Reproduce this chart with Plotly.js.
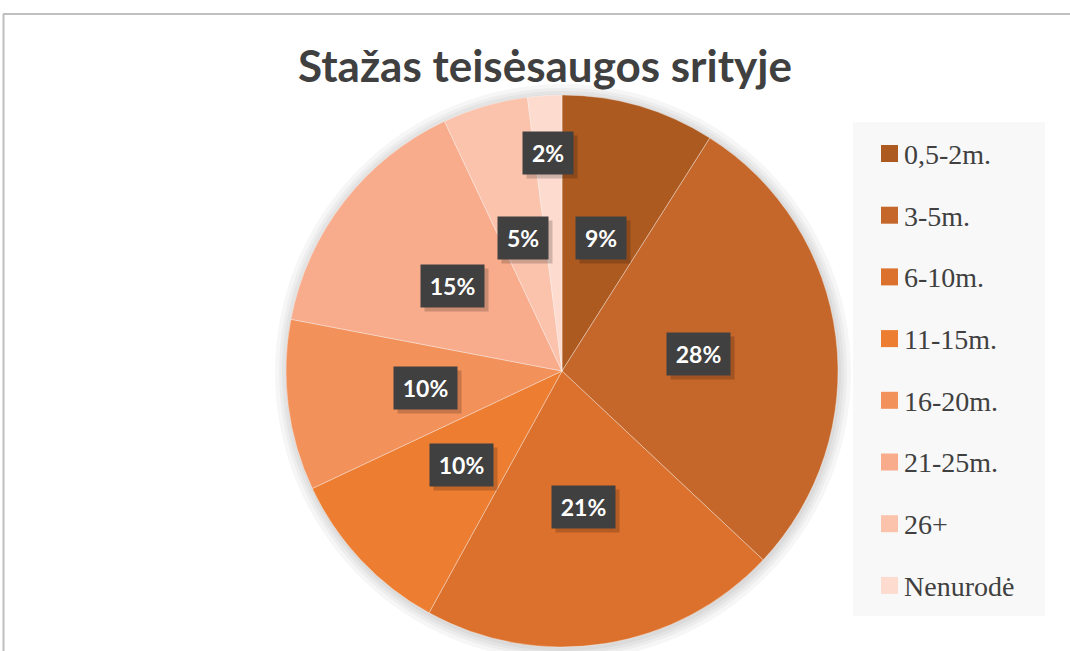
<!DOCTYPE html>
<html>
<head>
<meta charset="utf-8">
<script src="https://cdn.plot.ly/plotly-3.0.1.min.js"></script>
<style>html,body{margin:0;padding:0;background:#fff;}#chart{width:1070px;height:651px;}</style>
</head>
<body>
<div id="chart"></div>
<script>
// ---- data ----
const categories = ["0,5-2m.", "3-5m.", "6-10m.", "11-15m.", "16-20m.", "21-25m.", "26+", "Nenurodė"];
const percents = [9, 28, 21, 10, 10, 15, 5, 2];
const sliceColors = ["#AD5A20", "#C5672A", "#DB712D", "#EC7D31", "#F3915B", "#F8AC8C", "#FBC2AC", "#FDDBCF"];
const chartTitle = "Stažas teisėsaugos srityje";

// ---- geometry (px) ----
const W = 1070, H = 651;
const cx = 562, cy = 371, R = 276;
const px = v => v / W;
const py = v => 1 - v / H;

const pie = {
  type: "pie",
  labels: categories,
  values: percents,
  sort: false,
  direction: "clockwise",
  rotation: 0,
  marker: { colors: sliceColors, line: { color: "rgba(255,255,255,0.35)", width: 1 } },
  textinfo: "none",
  hoverinfo: "label+percent",
  showlegend: false,
  domain: { x: [px(cx - R), px(cx + R)], y: [py(cy + R), py(cy - R)] }
};

const shapes = [];
const annotations = [];

// frame lines
shapes.push({ type: "line", xref: "paper", yref: "paper", x0: px(3), x1: 1, y0: py(14), y1: py(14), line: { color: "#BFBFBF", width: 2 } });
shapes.push({ type: "line", xref: "paper", yref: "paper", x0: px(3.5), x1: px(3.5), y0: py(14), y1: 0, line: { color: "#BFBFBF", width: 2 } });

// soft shadow around pie
[12, 8, 5, 2].forEach((d, i) => {
  shapes.push({ type: "circle", xref: "paper", yref: "paper", layer: "below",
    x0: px(cx - R - d + 1), x1: px(cx + R + d + 1), y0: py(cy + R + d + 2), y1: py(cy - R - d + 1),
    fillcolor: "rgba(0,0,0,0.035)", line: { width: 0 } });
});

// data labels (dark boxes) placed from slice mid-angles
const total = percents.reduce((a, b) => a + b, 0);
let cum = 0;
percents.forEach((v, i) => {
  const mid = (cum + v / 2) / total * 2 * Math.PI;
  cum += v;
  const rr = (v / total < 0.03 ? 0.79 : 0.5) * R;
  const x = cx + rr * Math.sin(mid), y = cy - rr * Math.cos(mid);
  const txt = Math.round(v / total * 100) + "%";
  const w = txt.length >= 3 ? 55 : 42;
  // shadow
  annotations.push({ xref: "paper", yref: "paper", x: px(x + 4), y: py(y + 4), xanchor: "center", yanchor: "middle",
    text: "", showarrow: false, width: w, height: 34, borderpad: 4, bgcolor: "rgba(0,0,0,0.18)" });
  annotations.push({ xref: "paper", yref: "paper", x: px(x), y: py(y), xanchor: "center", yanchor: "middle",
    text: "<b>" + txt + "</b>", showarrow: false, width: w, height: 34, borderpad: 4, bgcolor: "#404040",
    font: { family: "Lato, 'Open Sans', sans-serif", size: 23, color: "#FFFFFF" } });
});

// legend (manual)
shapes.push({ type: "rect", xref: "paper", yref: "paper", x0: px(853), x1: px(1045), y0: py(616), y1: py(122),
  fillcolor: "#F8F8F8", line: { width: 0 } });
categories.forEach((c, i) => {
  const yc = 153.5 + i * 61.7;
  shapes.push({ type: "rect", xref: "paper", yref: "paper", x0: px(881), x1: px(898), y0: py(yc + 8.5), y1: py(yc - 8.5),
    fillcolor: sliceColors[i], line: { width: 0 } });
  annotations.push({ xref: "paper", yref: "paper", x: px(902), y: py(yc + 1), xanchor: "left", yanchor: "middle",
    text: c, showarrow: false, font: { family: "'Liberation Serif', 'Times New Roman', serif", size: 28, color: "#404040" } });
});

const layout = {
  width: W, height: H,
  margin: { l: 0, r: 0, t: 0, b: 0 },
  paper_bgcolor: "#FFFFFF",
  title: { text: "<b>" + chartTitle + "</b>", x: px(545), xanchor: "center", y: py(67), yanchor: "middle", yref: "container",
    font: { family: "Lato, 'Open Sans', sans-serif", size: 44, color: "#404040" } },
  showlegend: false,
  shapes: shapes,
  annotations: annotations
};

Plotly.newPlot("chart", [pie], layout, { displayModeBar: false, staticPlot: true });
</script>
</body>
</html>
